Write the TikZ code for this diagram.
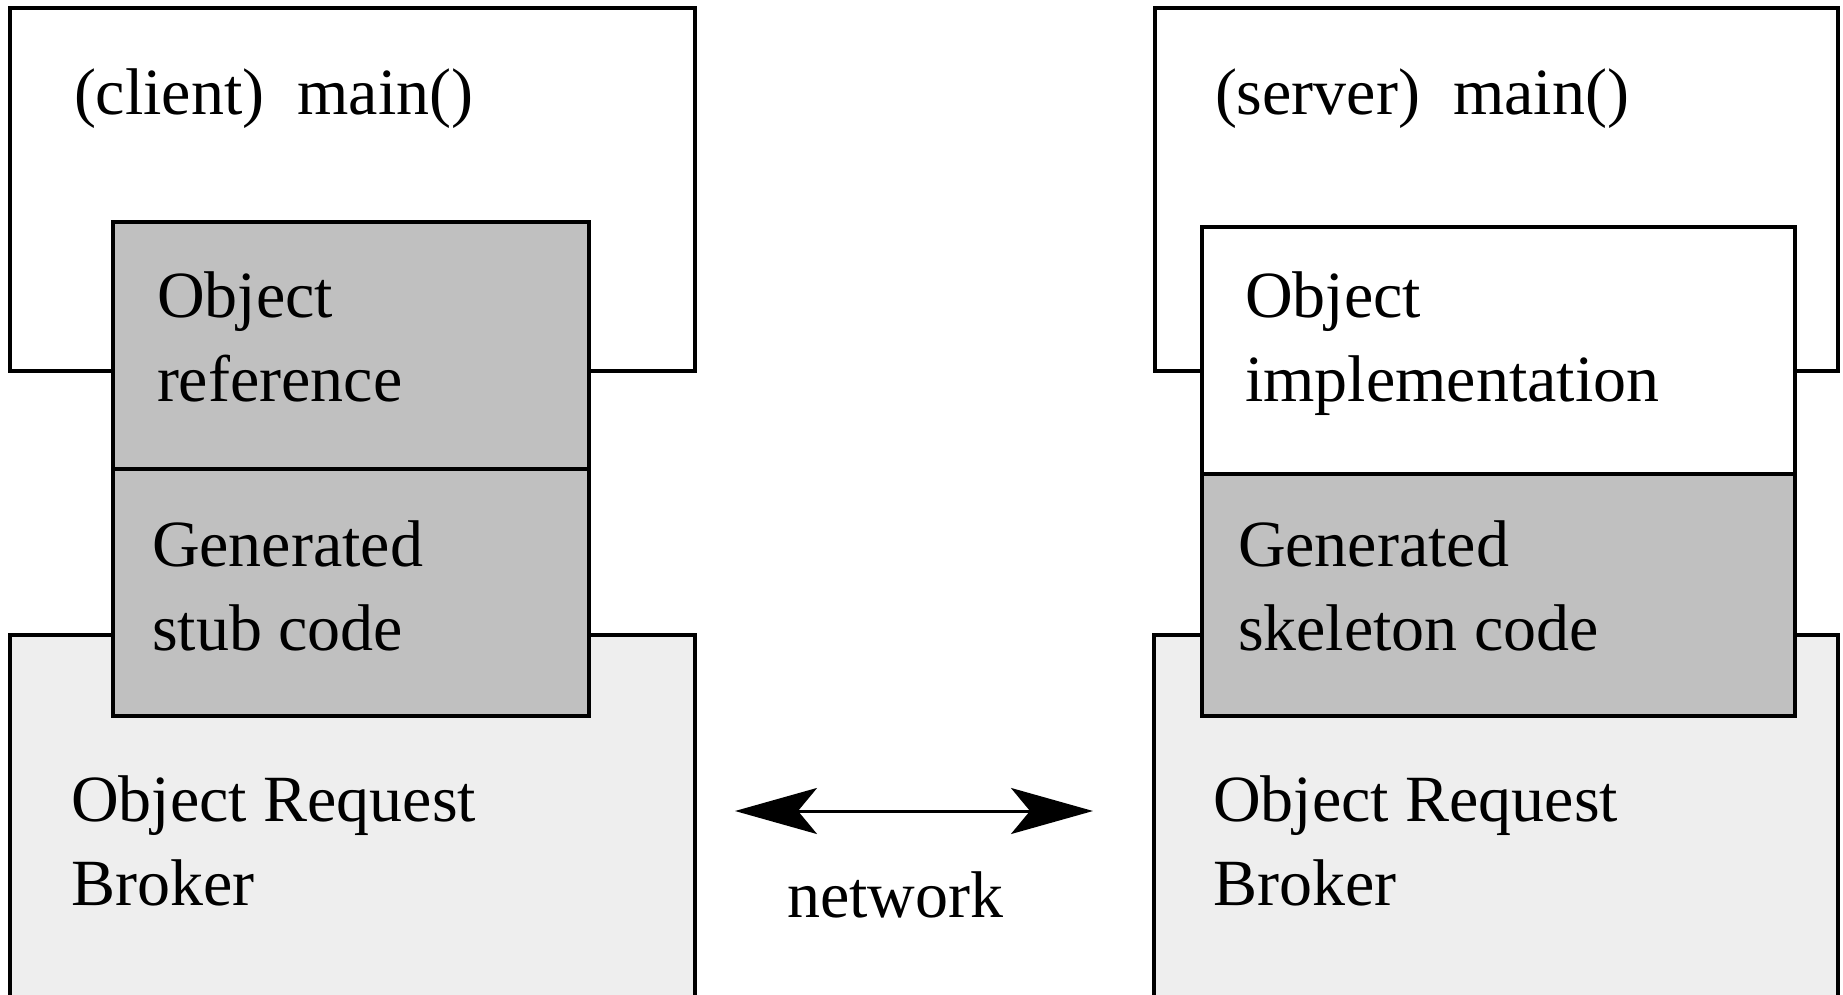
\documentclass[tikz,border=0pt]{standalone}
\usepackage{fontspec}
\setmainfont{Liberation Serif}
\usetikzlibrary{arrows.meta}
\definecolor{stubgray}{RGB}{192,192,192}
\definecolor{orbgray}{RGB}{238,238,238}
\begin{document}
\begin{tikzpicture}[x=0.5pt,y=-0.5pt,
  box/.style={draw=black, line width=1.9pt, inner sep=0pt, outer sep=0pt},
  orbbox/.style={fill=orbgray, draw=none, inner sep=0pt, outer sep=0pt},
  rim/.style={draw=black, line width=1.9pt},
  % the base anchor of a two-line label sits on the baseline of its last line
  txt/.style={anchor=base west, inner sep=0pt, outer sep=0pt, align=left,
              font=\fontsize{33}{42}\selectfont},
  link/.style={line width=1.5pt, {Stealth[length=41pt,width=23pt,inset=9.5pt]}-{Stealth[length=41pt,width=23pt,inset=9.5pt]}}
]
\useasboundingbox (0,0) rectangle (1843,995);

% client side
\node[box, fill=white, minimum width=342.5pt, minimum height=181.5pt] (cmainbox) at (352.5,189.5) {};
\node[orbbox, minimum width=342.5pt, minimum height=180pt] (corbbox) at (352.5,815) {};
\draw[rim] (corbbox.south west) -- (corbbox.north west) -- (corbbox.north east) -- (corbbox.south east);
\node[box, fill=stubgray, minimum width=238pt, minimum height=123.5pt] (crefbox) at (351,345.5) {};
\node[box, fill=stubgray, minimum width=238pt, minimum height=123.5pt] (cstubbox) at (351,592.5) {};

% server side
\node[box, fill=white, minimum width=341.5pt, minimum height=181.5pt] (smainbox) at (1496.5,189.5) {};
\node[orbbox, minimum width=342pt, minimum height=180pt] (sorbbox) at (1496,815) {};
\draw[rim] (sorbbox.south west) -- (sorbbox.north west) -- (sorbbox.north east) -- (sorbbox.south east);
\node[box, fill=white, minimum width=296.5pt, minimum height=123.5pt] (simplbox) at (1498.5,350.5) {};
\node[box, fill=stubgray, minimum width=296.5pt, minimum height=121pt] (sskelbox) at (1498.5,595) {};

% labels
\node[txt] (cmain) at (74,115) {(client)~~main()};
\node[txt] (cref) at (157,401) {Object\\reference};
\node[txt] (cstub) at (152,650) {Generated\\stub code};
\node[txt] (corb) at (71,905) {Object Request\\Broker};

\node[txt] (smain) at (1215,115) {(server)~~main()};
\node[txt] (simpl) at (1245,401) {Object\\implementation};
\node[txt] (sskel) at (1238,650) {Generated\\skeleton code};
\node[txt] (sorb) at (1213,905) {Object Request\\Broker};

% network link
\coordinate (netL) at (735,811);
\coordinate (netR) at (1093,811);
\draw[link] (netL) -- (netR);
\node[txt] (net) at (787,917) {network};
\end{tikzpicture}
\end{document}
